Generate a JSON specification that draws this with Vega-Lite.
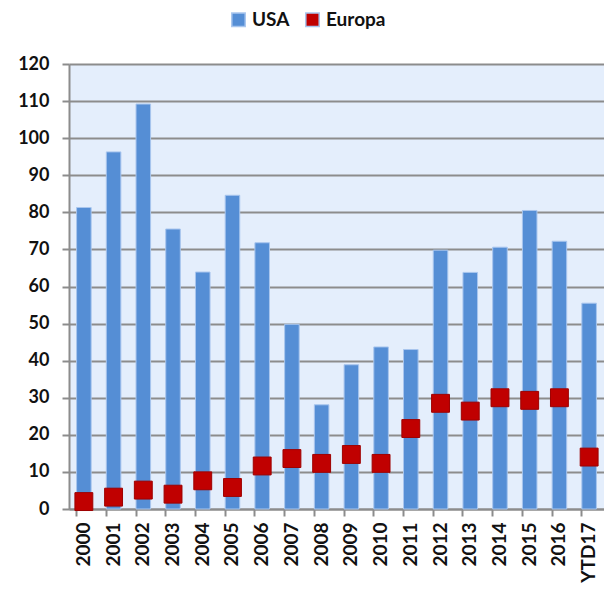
{
  "$schema": "https://vega.github.io/schema/vega-lite/v6.json",
  "autosize": "none",
  "width": 535,
  "height": 445,
  "padding": {"left": 69, "top": 64, "right": 0, "bottom": 82},
  "background": "white",
  "config": {
    "font": "Lato",
    "view": {"fill": "#E4EEFC", "stroke": null},
    "axis": {
      "labelFont": "Lato",
      "labelFontWeight": "bold",
      "labelFontSize": 18,
      "labelColor": "#111111",
      "domainColor": "#8C8C8C",
      "domainWidth": 2,
      "tickColor": "#8C8C8C",
      "tickWidth": 2,
      "tickSize": 7,
      "gridColor": "#8C8C8C",
      "gridWidth": 2
    }
  },
  "data": {
    "values": [
      {"year": "2000", "USA": 81.3, "Europa": 2.0},
      {"year": "2001", "USA": 96.3, "Europa": 3.2},
      {"year": "2002", "USA": 109.2, "Europa": 5.1},
      {"year": "2003", "USA": 75.5, "Europa": 4.0},
      {"year": "2004", "USA": 63.9, "Europa": 7.6},
      {"year": "2005", "USA": 84.6, "Europa": 5.8},
      {"year": "2006", "USA": 71.8, "Europa": 11.6},
      {"year": "2007", "USA": 49.8, "Europa": 13.6},
      {"year": "2008", "USA": 28.1, "Europa": 12.3},
      {"year": "2009", "USA": 38.9, "Europa": 14.7},
      {"year": "2010", "USA": 43.7, "Europa": 12.3},
      {"year": "2011", "USA": 43.0, "Europa": 21.7},
      {"year": "2012", "USA": 69.8, "Europa": 28.5},
      {"year": "2013", "USA": 63.8, "Europa": 26.4},
      {"year": "2014", "USA": 70.6, "Europa": 30.0},
      {"year": "2015", "USA": 80.5, "Europa": 29.3},
      {"year": "2016", "USA": 72.2, "Europa": 30.0},
      {"year": "YTD17", "USA": 55.5, "Europa": 14.0}
    ]
  },
  "encoding": {
    "x": {
      "field": "year",
      "type": "nominal",
      "sort": null,
      "scale": {"paddingInner": 0.51, "paddingOuter": 0.255},
      "axis": {
        "title": null,
        "labelAngle": -90,
        "labelPadding": 6,
        "labelFontSize": 19,
        "grid": false,
        "bandPosition": 0
      }
    },
    "y": {
      "type": "quantitative",
      "scale": {"domain": [0, 120], "nice": false, "zero": true},
      "axis": {
        "title": null,
        "tickCount": 12,
        "labelPadding": 13,
        "labelOverlap": false,
        "labelSeparation": 0,
        "grid": true
      }
    }
  },
  "layer": [
    {
      "mark": {"type": "bar", "stroke": "#A9C6EE", "strokeWidth": 1},
      "encoding": {
        "y": {"field": "USA"},
        "color": {
          "datum": "USA",
          "scale": {"domain": ["USA", "Europa"], "range": ["#558ED5", "#C00000"]},
          "legend": {
            "title": null,
            "orient": "none",
            "direction": "horizontal",
            "legendX": 160,
            "legendY": -54,
            "symbolType": "square",
            "symbolSize": 180,
            "symbolOpacity": 1,
            "labelFont": "Lato",
            "labelFontWeight": "bold",
            "labelFontSize": 19,
            "labelColor": "#111111",
            "columnPadding": 12,
            "labelOffset": 4
          }
        }
      }
    },
    {
      "mark": {"type": "point", "shape": "square", "filled": true, "size": 320, "opacity": 1, "stroke": "#9E0000", "strokeWidth": 1},
      "encoding": {
        "y": {"field": "Europa"},
        "color": {"datum": "Europa"}
      }
    }
  ]
}
